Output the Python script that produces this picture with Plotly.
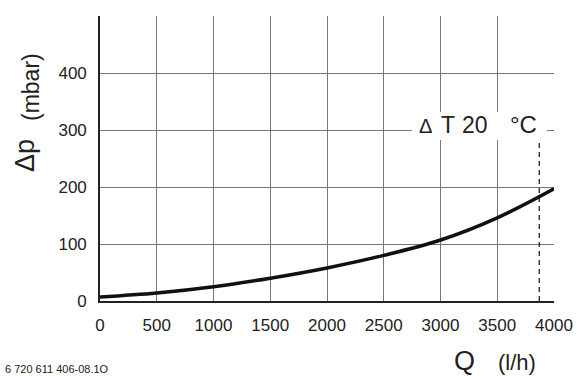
import plotly.graph_objects as go

flow_lh = [0, 500, 1000, 1500, 2000, 2500, 3000, 3500, 4000]
dp_mbar = [7, 14, 25, 40, 58, 80, 107, 146, 197]
x_ticks = [0, 500, 1000, 1500, 2000, 2500, 3000, 3500, 4000]
y_ticks = [0, 100, 200, 300, 400]
dt_line_q = 3870
dt_line_top = 281

FONT = "Liberation Sans, Arial, sans-serif"
INK = "#222222"
L, R, T, B = 100, 23, 16, 75
W, H = 577, 376

fig = go.Figure()
fig.add_trace(go.Scatter(x=flow_lh, y=dp_mbar, mode="lines",
                         line=dict(color="#111111", width=3.5, shape="spline"),
                         hoverinfo="skip", showlegend=False))

fig.add_shape(type="line", x0=dt_line_q, x1=dt_line_q, y0=0, y1=dt_line_top,
              xref="x", yref="y", line=dict(color="#111111", width=1.2, dash="5px,4px"))

fig.update_layout(
    width=W, height=H,
    margin=dict(l=L, r=R, t=T, b=B, autoexpand=False),
    paper_bgcolor="white", plot_bgcolor="white",
    font=dict(family=FONT, color=INK),
    showlegend=False,
    xaxis=dict(range=[0, 4000], tickvals=x_ticks, ticktext=[str(v) for v in x_ticks],
               showgrid=True, gridcolor="#777777", gridwidth=1.2,
               showline=True, linecolor=INK, linewidth=1.6,
               zeroline=False, ticks="", tickfont=dict(size=17, family=FONT, color=INK),
               ticklabelstandoff=8, automargin=False, fixedrange=True),
    yaxis=dict(range=[0, 500], tickvals=y_ticks + [500], ticktext=[str(v) for v in y_ticks] + [""],
               showgrid=True, gridcolor="#777777", gridwidth=1.2,
               showline=True, linecolor=INK, linewidth=1.6,
               zeroline=False, ticks="", tickfont=dict(size=17, family=FONT, color=INK),
               ticklabelstandoff=8, automargin=False, fixedrange=True),
)


def px_x(px):
    return (px - L) / (W - L - R)


def px_y(py):
    return (H - B - py) / (H - T - B)


def label(text, cx, cy, size, angle=0, anchor="center"):
    fig.add_annotation(x=px_x(cx), y=px_y(cy), xref="paper", yref="paper",
                       text=text, showarrow=False, textangle=angle,
                       font=dict(size=size, family=FONT, color=INK),
                       xanchor=anchor, yanchor="middle")


# white box behind the Delta T label
fig.add_shape(type="rect", xref="paper", yref="paper",
              x0=px_x(412), x1=px_x(547), y0=px_y(140), y1=px_y(112),
              fillcolor="white", line=dict(width=0), layer="above")

label("Δ", 425, 126, 20)
label("T", 448, 125, 23)
label("20", 475, 125, 23)
label("°C", 523, 125, 24)

label("Δp", 25, 156, 27, angle=-90)
label("(mbar)", 31, 87, 23, angle=-90)

label("Q", 464, 361, 27)
label("(l/h)", 517, 362, 22)

label("6 720 611 406-08.1O", 3, 369, 11, anchor="left")

fig.write_html("out.html", config={"displayModeBar": False},
               post_script="document.body.style.margin='0';document.body.style.overflow='hidden';")
